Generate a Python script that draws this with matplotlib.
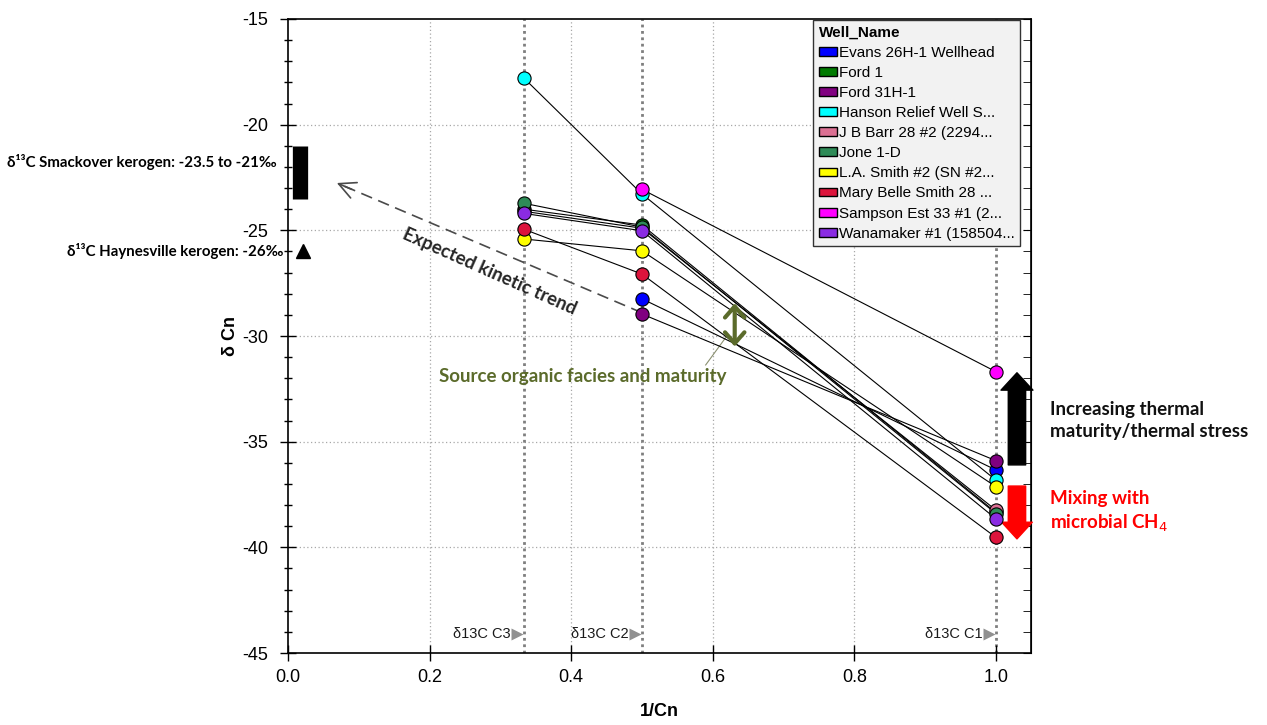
import numpy as np
import matplotlib.pyplot as plt
from matplotlib.patches import Patch
from matplotlib.ticker import MultipleLocator

plt.rcParams['font.family'] = ['Liberation Sans', 'DejaVu Sans']
plt.rcParams['axes.unicode_minus'] = False
note_font = ['Lato', 'DejaVu Sans']

wells = ['Evans 26H-1 Wellhead', 'Ford 1', 'Ford 31H-1', 'Hanson Relief Well S...',
         'J B Barr 28 #2 (2294...', 'Jone 1-D', 'L.A. Smith #2 (SN #2...',
         'Mary Belle Smith 28 ...', 'Sampson Est 33 #1 (2...', 'Wanamaker #1 (158504...']
colors = ['#0000ff', '#007a00', '#800080', '#00ffff', '#db7093',
          '#2e8b57', '#ffff00', '#dc143c', '#ff00ff', '#8a2be2']

# 1/Cn for propane, ethane, methane
inv_cn = [1 / 3, 0.5, 1.0]
comp_names = ['δ13C C3', 'δ13C C2', 'δ13C C1']

nan = np.nan
d13c_c3 = [nan, -24.0, nan, -17.8, -24.1, -23.72, -25.41, -24.95, nan, -24.2]
d13c_c2 = [-28.24, -24.75, -28.96, -23.28, -24.9, -24.85, -25.97, -27.07, -23.06, -25.02]
d13c_c1 = [-36.34, -38.35, -35.9, -36.82, -38.24, -38.4, -37.13, -39.53, -31.69, -38.65]

smackover_range = [-23.5, -21.0]
haynesville = -26.0

fig = plt.figure(figsize=(12.67, 7.25), dpi=100)
ax = fig.add_axes([0.2273, 0.0993, 0.5867, 0.8745])
ax.set_xlim(0, 1.05)
ax.set_ylim(-45, -15)

# grid
grid_ls = (0, (1, 2))
for gx in [0.2, 0.4, 0.6, 0.8]:
    ax.axvline(gx, color='#a8a8a8', lw=0.9, ls=grid_ls, zorder=0)
for gy in [-20, -25, -30, -35, -40]:
    ax.axhline(gy, color='#a8a8a8', lw=0.9, ls=grid_ls, zorder=0)
for cx in inv_cn:
    ax.axvline(cx, color='#7f7f7f', lw=2, ls=(0, (1, 1.3)), zorder=1)

# well lines and points
for i in range(len(wells)):
    xs, ys = [], []
    for x, v in zip(inv_cn, [d13c_c3[i], d13c_c2[i], d13c_c1[i]]):
        if not np.isnan(v):
            xs.append(x)
            ys.append(v)
    ax.plot(xs, ys, color='black', lw=0.8, zorder=3)
for i in range(len(wells)):
    xs, ys = [], []
    for x, v in zip(inv_cn, [d13c_c3[i], d13c_c2[i], d13c_c1[i]]):
        if not np.isnan(v):
            xs.append(x)
            ys.append(v)
    ax.plot(xs, ys, ls='none', marker='o', ms=9.5, mfc=colors[i],
            mec='black', mew=0.8, zorder=4 + i * 0.01)

# component labels along the bottom
for x, name in zip(inv_cn, comp_names):
    ax.plot(x - 0.0095, -44.1, marker='>', ms=9, color='#909090', mec='none', zorder=5)
    ax.text(x - 0.0195, -44.1, name, ha='right', va='center', fontsize=10.5,
            color='#1a1a1a')

# kerogen references
ax.plot([0.017, 0.017], smackover_range, color='black', lw=11, solid_capstyle='butt',
        clip_on=False, zorder=5)
ax.plot(0.021, haynesville, marker='^', ms=10, color='black', clip_on=False, zorder=5)
ax.text(-0.0155, -21.75, 'δ¹³C Smackover kerogen: -23.5 to -21‰', ha='right',
        va='center', fontsize=10.8, fontweight='bold', family=note_font)
ax.text(-0.007, haynesville, 'δ¹³C Haynesville kerogen: -26‰', ha='right', va='center',
        fontsize=10.8, fontweight='bold', family=note_font)

# expected kinetic trend
ax.plot([0.5, 0.074], [-28.9, -22.83], color='#4a4a4a', lw=1.2, ls=(0, (7, 4)), zorder=2)
ax.annotate('', xy=(0.069, -22.76), xytext=(0.09, -23.06),
            arrowprops=dict(arrowstyle='->,head_length=0.6,head_width=0.3',
                            color='#4a4a4a', lw=1.2, shrinkA=0, shrinkB=0,
                            mutation_scale=20))
ax.text(0.285, -26.97, 'Expected kinetic trend', rotation=-24, rotation_mode='anchor',
        ha='center', va='center', fontsize=13.5, fontweight='bold', color='#262626',
        family=note_font)

# source facies arrow
olive = '#5b6b2b'
ax.annotate('', xy=(0.631, -28.45), xytext=(0.631, -30.5),
            arrowprops=dict(arrowstyle='<->,head_length=0.4,head_width=0.35',
                            color=olive, lw=3, shrinkA=0, shrinkB=0, mutation_scale=20))
ax.plot([0.590, 0.621], [-31.37, -29.95], color='#8a9070', lw=0.8, zorder=2)
ax.text(0.417, -31.9, 'Source organic facies and maturity', ha='center', va='center',
        fontsize=13.5, fontweight='bold', color=olive, family=note_font)

# thermal maturity / microbial mixing arrows
ax.annotate('', xy=(1.0297, -31.74), xytext=(1.0297, -36.1),
            arrowprops=dict(arrowstyle='simple,head_length=1.25,head_width=2.3,tail_width=1.25',
                            color='black', shrinkA=0, shrinkB=0, mutation_scale=10),
            annotation_clip=False)
ax.annotate('', xy=(1.0297, -39.6), xytext=(1.0297, -37.1),
            arrowprops=dict(arrowstyle='simple,head_length=1.2,head_width=2.2,tail_width=1.25',
                            color='red', shrinkA=0, shrinkB=0, mutation_scale=10),
            annotation_clip=False)
ax.text(1.077, -34.0, 'Increasing thermal\nmaturity/thermal stress', ha='left', va='center',
        fontsize=13.5, fontweight='bold', color='#111111', linespacing=1.4,
        family=note_font, clip_on=False)
ax.text(1.077, -38.33, 'Mixing with\nmicrobial CH$_4$', ha='left', va='center',
        fontsize=13.5, fontweight='bold', color='red', linespacing=1.4,
        family=note_font, clip_on=False)

# axes styling
ax.set_xticks([0.0, 0.2, 0.4, 0.6, 0.8, 1.0])
ax.set_xticklabels(['0.0', '0.2', '0.4', '0.6', '0.8', '1.0'])
ax.set_yticks(range(-45, -14, 5))
ax.yaxis.set_minor_locator(MultipleLocator(1))
ax.tick_params(which='major', direction='inout', length=11, width=1, labelsize=13)
ax.tick_params(axis='y', which='major', pad=9)
ax.tick_params(axis='x', which='major', pad=6)
ax.tick_params(which='minor', direction='inout', length=6, width=1)
ax.tick_params(axis='x', which='minor', bottom=False)
sec = ax.secondary_yaxis('right')
sec.set_yticks(range(-45, -14, 5))
sec.yaxis.set_minor_locator(MultipleLocator(1))
sec.tick_params(which='both', direction='in', length=6, labelright=False)
for s in ax.spines.values():
    s.set_linewidth(1.2)

ax.set_xlabel('1/Cn', fontsize=13, fontweight='bold', labelpad=12)
ax.set_ylabel('δ Cn', fontsize=13, fontweight='bold', labelpad=2)

handles = [Patch(facecolor=c, edgecolor='black', lw=1) for c in colors]
leg = ax.legend(handles, wells, title='Well_Name', loc='upper right',
                bbox_to_anchor=(0.985, 0.998), borderaxespad=0, fontsize=11,
                title_fontproperties={'weight': 'bold', 'size': 11}, alignment='left',
                handlelength=1.18, handleheight=0.5, handletextpad=0.15,
                labelspacing=0.40, borderpad=0.35, fancybox=False, framealpha=1,
                facecolor='#f2f2f2', edgecolor='#333333')
leg.set_zorder(10)

fig.savefig('out.png', dpi=100)
